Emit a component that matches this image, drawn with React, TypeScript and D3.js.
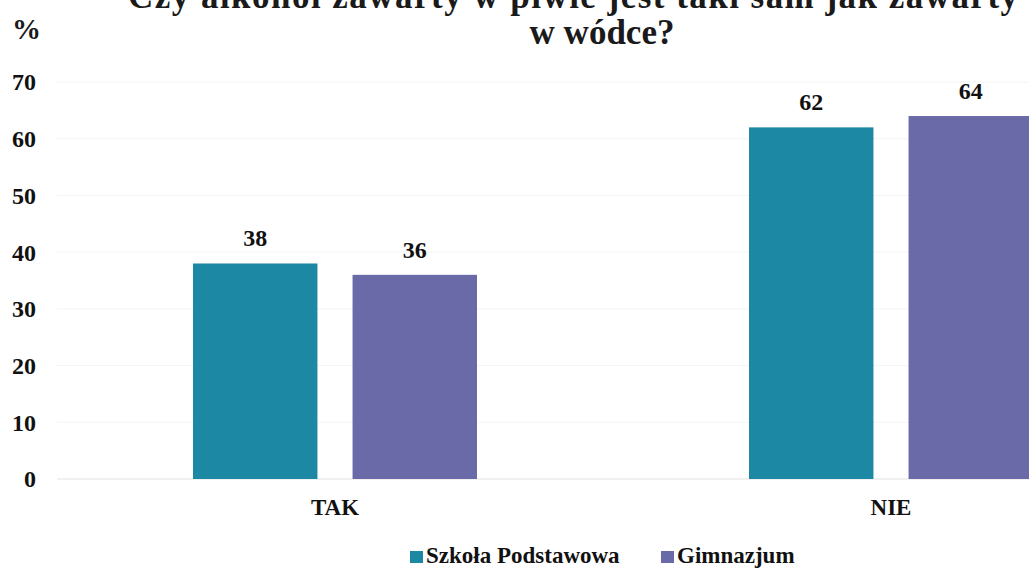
import React, { useRef, useEffect } from 'react';
import * as d3 from 'd3';

const categories = ['TAK', 'NIE'];
const seriesNames = ['Szkoła Podstawowa', 'Gimnazjum'];
const szkolaPodstawowa = [38, 62];
const gimnazjum = [36, 64];
const yTicks = [0, 10, 20, 30, 40, 50, 60, 70];
const colors = ['#1d88a4', '#6b6aa8'];

const W = 1029;
const H = 569;

const App = () => {
  const svgRef = useRef<SVGSVGElement>(null);

  useEffect(() => {
    const svg = d3.select(svgRef.current)
      .attr('width', W)
      .attr('height', H)
      .style('background', '#ffffff');
    svg.selectAll('*').remove();

    const font = "'Liberation Serif', 'Times New Roman', serif";
    const values = [szkolaPodstawowa, gimnazjum];

    // scales
    const yScale = d3.scaleLinear().domain([0, 70]).range([479, 82]);
    const x0 = d3.scaleBand().domain(categories).range([57, 1169]).padding(0);
    const x1 = d3.scaleBand().domain(seriesNames).range([136, 420]).paddingInner(0.22).paddingOuter(0);

    // faint grid
    svg.append('g')
      .selectAll('line')
      .data(yTicks)
      .enter()
      .append('line')
      .attr('x1', 57)
      .attr('x2', W)
      .attr('y1', d => yScale(d))
      .attr('y2', d => yScale(d))
      .attr('stroke', d => (d === 0 ? '#e2e2e2' : '#f4f4f4'))
      .attr('stroke-width', 1);

    // y tick labels
    svg.append('g')
      .selectAll('text')
      .data(yTicks)
      .enter()
      .append('text')
      .attr('x', 36)
      .attr('y', d => yScale(d))
      .attr('dy', '0.35em')
      .attr('text-anchor', 'end')
      .attr('font-family', font)
      .attr('font-weight', 'bold')
      .attr('font-size', 24)
      .attr('fill', '#111')
      .text(d => d);

    // bars
    const groups = svg.append('g')
      .selectAll('g')
      .data(categories)
      .enter()
      .append('g')
      .attr('transform', d => `translate(${x0(d)},0)`);

    groups.selectAll('rect')
      .data((c, i) => seriesNames.map((s, j) => ({ s, j, v: values[j][i] })))
      .enter()
      .append('rect')
      .attr('x', d => x1(d.s))
      .attr('y', d => yScale(d.v))
      .attr('width', x1.bandwidth())
      .attr('height', d => yScale(0) - yScale(d.v))
      .attr('fill', d => colors[d.j]);

    groups.selectAll('text.val')
      .data((c, i) => seriesNames.map((s, j) => ({ s, j, v: values[j][i] })))
      .enter()
      .append('text')
      .attr('class', 'val')
      .attr('x', d => x1(d.s) + x1.bandwidth() / 2)
      .attr('y', d => yScale(d.v) - 17)
      .attr('text-anchor', 'middle')
      .attr('font-family', font)
      .attr('font-weight', 'bold')
      .attr('font-size', 24)
      .attr('fill', '#111')
      .text(d => d.v);

    // category labels
    svg.append('g')
      .selectAll('text')
      .data(categories)
      .enter()
      .append('text')
      .attr('x', d => x0(d) + x0.bandwidth() / 2)
      .attr('y', 515)
      .attr('text-anchor', 'middle')
      .attr('font-family', font)
      .attr('font-weight', 'bold')
      .attr('font-size', 23)
      .attr('fill', '#111')
      .text(d => d);

    // title: the first line is cut off at the top, as in the scan
    svg.append('text')
      .attr('x', 128)
      .attr('y', 8)
      .attr('textLength', 890)
      .attr('lengthAdjust', 'spacing')
      .attr('font-family', font)
      .attr('font-weight', 'bold')
      .attr('font-size', 35)
      .attr('fill', '#1a1a1a')
      .text('Czy alkohol zawarty w piwie jest taki sam jak zawarty');
    svg.append('text')
      .attr('x', 602)
      .attr('y', 44)
      .attr('text-anchor', 'middle')
      .attr('font-family', font)
      .attr('font-weight', 'bold')
      .attr('font-size', 35)
      .attr('fill', '#1a1a1a')
      .text('w wódce?');

    svg.append('text')
      .attr('x', 12)
      .attr('y', 39)
      .attr('font-family', font)
      .attr('font-weight', 'bold')
      .attr('font-size', 29)
      .attr('fill', '#1a1a1a')
      .text('%');

    // legend
    const legendX = [410, 661];
    const legend = svg.append('g')
      .selectAll('g')
      .data(seriesNames)
      .enter()
      .append('g')
      .attr('transform', (d, i) => `translate(${legendX[i]},563)`);
    legend.append('rect')
      .attr('x', 0)
      .attr('y', -12)
      .attr('width', 13)
      .attr('height', 12)
      .attr('fill', (d, i) => colors[i]);
    legend.append('text')
      .attr('x', 16)
      .attr('y', 0)
      .attr('font-family', font)
      .attr('font-weight', 'bold')
      .attr('font-size', 23)
      .attr('fill', '#111')
      .text(d => d);
  }, []);

  return (
    <svg ref={svgRef} style={{ position: 'absolute', left: 0, top: 0, display: 'block' }}></svg>
  );
};

export default App;
